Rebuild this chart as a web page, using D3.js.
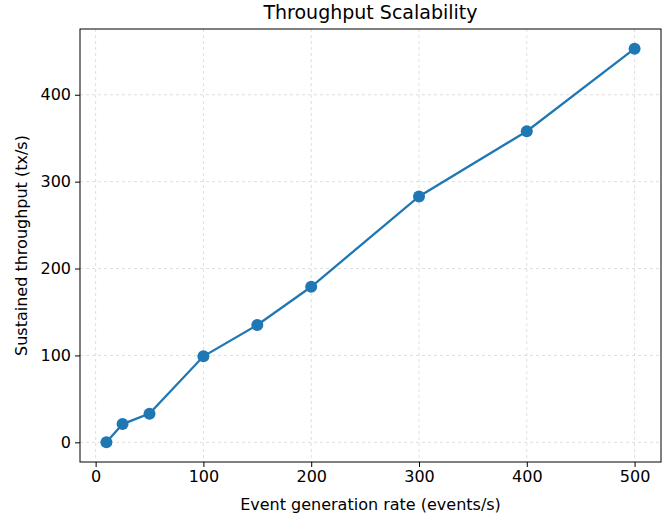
<!DOCTYPE html>
<html><head><meta charset="utf-8">
<script src="https://cdn.jsdelivr.net/npm/d3@7"></script>
<style>body{margin:0;background:#fff}svg{display:block}text{font-family:"DejaVu Sans",sans-serif;fill:#000}</style>
</head><body>
<svg id="c" width="670" height="517"></svg>
<script>
const rates = [10, 25, 50, 100, 150, 200, 300, 400, 500];
const throughput = [0, 21, 33, 99, 135, 179, 283, 358, 453];
const xTicks = [0, 100, 200, 300, 400, 500];
const yTicks = [0, 100, 200, 300, 400];
const title = "Throughput Scalability";
const xLabel = "Event generation rate (events/s)";
const yLabel = "Sustained throughput (tx/s)";

const svg = d3.select("#c");
const L = 80, R = 661, T = 29, B = 462;
const xr = d3.extent(rates), yr = d3.extent(throughput);
const xm = (xr[1]-xr[0])*0.05, ym = (yr[1]-yr[0])*0.05;
const x = d3.scaleLinear().domain([xr[0]-xm, xr[1]+xm]).range([L, R]);
const y = d3.scaleLinear().domain([yr[0]-ym, yr[1]+ym]).range([B, T]);

const grid = svg.append("g");
xTicks.forEach(t => grid.append("line").attr("x1", x(t)).attr("x2", x(t)).attr("y1", T).attr("y2", B)
  .attr("stroke", "#b0b0b0").attr("stroke-opacity", 0.5).attr("stroke-width", 0.8).attr("stroke-dasharray", "3,3"));
yTicks.forEach(t => grid.append("line").attr("y1", y(t)).attr("y2", y(t)).attr("x1", L).attr("x2", R)
  .attr("stroke", "#b0b0b0").attr("stroke-opacity", 0.5).attr("stroke-width", 0.8).attr("stroke-dasharray", "3,3"));

const xa = svg.append("g").attr("transform", `translate(0,${B})`)
  .call(d3.axisBottom(x).tickValues(xTicks).tickSize(5).tickPadding(4));
const ya = svg.append("g").attr("transform", `translate(${L},0)`)
  .call(d3.axisLeft(y).tickValues(yTicks).tickSize(5).tickPadding(4));
[xa, ya].forEach(a => { a.select(".domain").remove(); a.selectAll("text").attr("font-size", 16).attr("font-family", "DejaVu Sans"); a.selectAll("line").attr("stroke", "#000").attr("stroke-width", 1); });

svg.append("rect").attr("x", L).attr("y", T).attr("width", R-L).attr("height", B-T)
  .attr("fill", "none").attr("stroke", "#000").attr("stroke-width", 1);

const line = d3.line().x((d,i) => x(rates[i])).y(d => y(d));
svg.append("path").datum(throughput).attr("d", line).attr("fill", "none")
  .attr("stroke", "#1f77b4").attr("stroke-width", 2.3);
svg.append("g").selectAll("circle").data(throughput).join("circle")
  .attr("cx", (d,i) => x(rates[i])).attr("cy", d => y(d)).attr("r", 6).attr("fill", "#1f77b4");

svg.append("text").attr("x", (L+R)/2).attr("y", 19).attr("text-anchor", "middle").attr("font-size", 19).text(title);
svg.append("text").attr("x", (L+R)/2).attr("y", 510).attr("text-anchor", "middle").attr("font-size", 16).text(xLabel);
svg.append("text").attr("transform", `translate(27,${(T+B)/2}) rotate(-90)`).attr("text-anchor", "middle").attr("font-size", 16).text(yLabel);
</script>
</body></html>
